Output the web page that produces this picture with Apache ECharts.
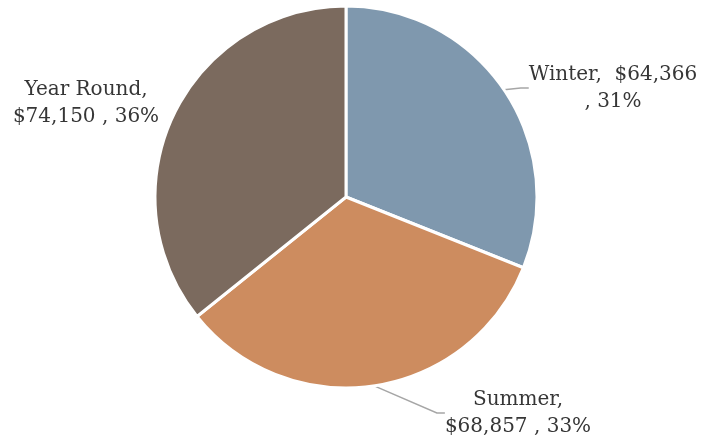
<!DOCTYPE html>
<html>
<head>
<meta charset="utf-8">
<script src="https://cdn.jsdelivr.net/npm/echarts@6/dist/echarts.min.js"></script>
<style>
	html, body { margin: 0; padding: 0; background: #fff; }
	#chart { width: 702px; height: 438px; }
</style>
</head>
<body>
<div id="chart"></div>
<script>
var seasons = ['Winter', 'Summer', 'Year Round'];
var amounts = [64366, 68857, 74150];
var colors = ['#7f98ae', '#cd8c5f', '#7b6a5e'];

var myChart = echarts.init(document.getElementById('chart'));

var total = amounts.reduce(function(a, b) { return a + b; }, 0);
function money(v) {
	return '$' + v.toLocaleString('en-US');
}
function pct(v) {
	return Math.round(v / total * 100) + '%';
}
// 标签文字换行方式跟原图一致
var labelText = [
	function(i) { return seasons[i] + ',  ' + money(amounts[i]) + '\n, ' + pct(amounts[i]); },
	function(i) { return seasons[i] + ',\n' + money(amounts[i]) + ' , ' + pct(amounts[i]); },
	function(i) { return seasons[i] + ',\n' + money(amounts[i]) + ' , ' + pct(amounts[i]); }
];
// 标签位置
var labelPos = [
	{ x: 613, y: 88 },
	{ x: 518, y: 413 },
	{ x: 86, y: 103 }
];

var data = seasons.map(function(name, i) {
	return {
		name: name,
		value: amounts[i],
		itemStyle: { color: colors[i] },
		labelLine: { show: i !== 2 }
	};
});

var option = {
	animation: false,
	series: [{
		type: 'pie',
		center: [346, 197],
		radius: 191,
		startAngle: 90,
		clockwise: true,
		data: data,
		itemStyle: {
			borderColor: '#fff',
			borderWidth: 3
		},
		label: {
			show: true,
			position: 'outside',
			overflow: 'none',
			color: '#363636',
			fontFamily: 'DejaVu Serif',
			fontSize: 20,
			lineHeight: 27,
			align: 'center',
			formatter: function(p) {
				return labelText[p.dataIndex](p.dataIndex);
			}
		},
		labelLine: {
			show: true,
			length: 10,
			length2: 8,
			lineStyle: { color: '#a6a6a6', width: 1.5 }
		},
		labelLayout: function(p) {
			var pos = labelPos[p.dataIndex];
			return { x: pos.x, y: pos.y, align: 'center', verticalAlign: 'middle' };
		},
		emphasis: { disabled: true }
	}]
};
myChart.setOption(option);
</script>
</body>
</html>
